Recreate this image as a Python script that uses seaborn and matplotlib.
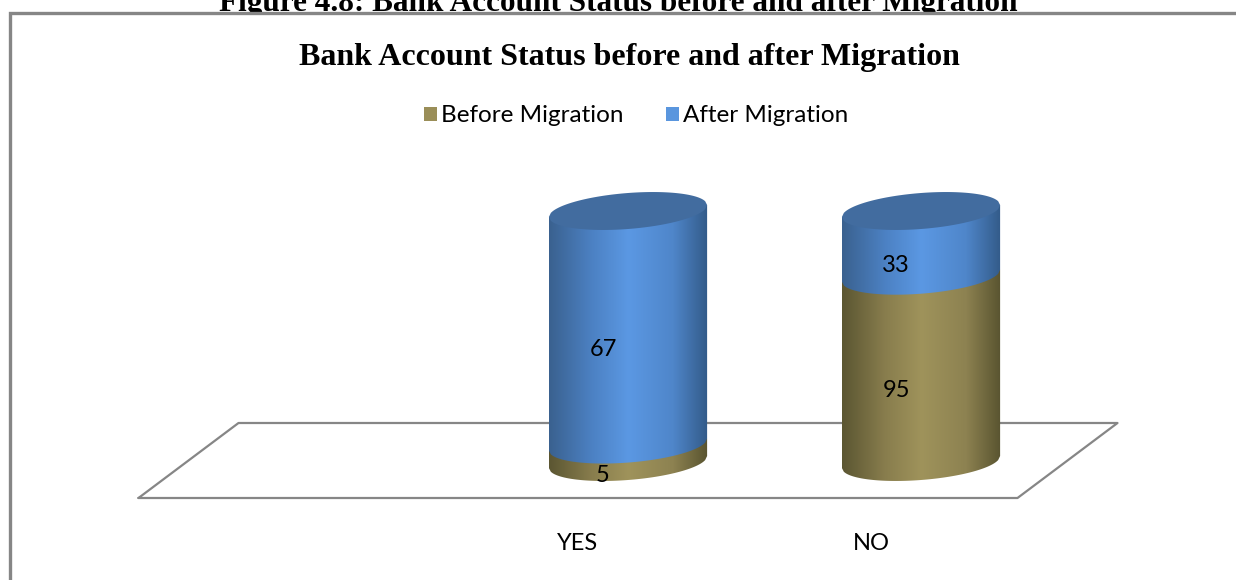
import numpy as np
import pandas as pd
import matplotlib
matplotlib.use('Agg')
from matplotlib import pyplot as plt
from matplotlib.colors import LinearSegmentedColormap
from matplotlib.patches import Patch, Rectangle
from matplotlib.path import Path
from matplotlib.transforms import ScaledTranslation, offset_copy
import seaborn as sns

# data, first category is an empty slot in the original
answers = ['', 'YES', 'NO']
before = [0, 5, 95]
after = [0, 67, 33]
series = ['Before Migration', 'After Migration']
page_title = 'Figure 4.8: Bank Account Status before and after Migration'
chart_title = 'Bank Account Status before and after Migration'

blue_stops = ['#3a618f', '#4c81c3', '#5b98e3', '#4f86ca', '#335b89']
brown_stops = ['#5b5632', '#887d4d', '#9f935b', '#8d8251', '#595430']
cap_color = '#426c9f'
legend_colors = ['#9a8e58', '#5a96de']
grey = '#868686'

sns.set_theme(style='white')
plt.rcParams['font.family'] = ['Lato', 'DejaVu Sans']

W, H = 1236, 580
fig = plt.figure(figsize=(W / 100, H / 100), dpi=100)
ax = fig.add_axes([188.5 / W, (H - 462) / H, 879 / W, 251 / H])
ax.set_zorder(3)
ax.patch.set_visible(False)

df = pd.DataFrame({'answer': answers, 'before': before, 'after': after})
total = (df['before'] + df['after']).replace(0, 1)
df['before_top'] = df['before'] / total * 100
df['after_top'] = (df['before'] + df['after']) / total * 100

# 100% stacked: full bar first, the lower series on top of it
sns.barplot(data=df, x='answer', y='after_top', color=blue_stops[2], width=0.54, ax=ax)
sns.barplot(data=df, x='answer', y='before_top', color=brown_stops[2], width=0.54, ax=ax)
ax.set_xlim(-0.5, 2.5)
ax.set_ylim(0, 100)

b = 18 / 251 * 100      # half height of the ellipse
tilt = 6 / 251 * 100    # the ellipses lean up to the right
u = np.linspace(-1, 1, 80)


def segment_path(x0, x1, y0, y1):
    xs = (x0 + x1) / 2 + u * (x1 - x0) / 2
    ys = y0 + tilt * u - b * np.sqrt(1 - u ** 2)
    pts = list(zip(xs, ys)) + [(x1, y1 + tilt), (x0, y1 - tilt)]
    return Path(pts + [pts[0]], closed=True)


def draw_segment(x0, x1, y0, y1, stops, z):
    cmap = LinearSegmentedColormap.from_list(
        'cyl', list(zip([0, 0.27, 0.5, 0.78, 1], stops)))
    grad = np.linspace(0, 1, 256).reshape(1, -1)
    im = ax.imshow(grad, cmap=cmap, aspect='auto', zorder=z,
                   extent=(x0, x1, y0 - b - tilt, y1 + b + tilt))
    im.set_clip_path(segment_path(x0, x1, y0, y1), ax.transData)
    im.set_clip_box(fig.bbox)


# bars from seaborn give the geometry, the cylinders are painted over it
full_bars, low_bars = ax.containers[0], ax.containers[1]
for full, low in zip(full_bars, low_bars):
    full.set_visible(False)
    low.set_visible(False)
    if full.get_height() == 0:
        continue
    x0, x1 = full.get_x(), full.get_x() + full.get_width()
    split = low.get_height()
    draw_segment(x0, x1, 0, split, brown_stops, 2)
    draw_segment(x0, x1, split, full.get_height(), blue_stops, 3)
    xs = (x0 + x1) / 2 + u * (x1 - x0) / 2
    yc = full.get_height() + tilt * u
    cap = ax.fill(np.r_[xs, xs[::-1]],
                  np.r_[yc - b * np.sqrt(1 - u ** 2), (yc + b * np.sqrt(1 - u ** 2))[::-1]],
                  color=cap_color, lw=0, zorder=4)
    cap[0].set_clip_on(False)

ax.set_xlim(-0.5, 2.5)
ax.set_ylim(0, 100)

# floor of the 3d chart
dx = 50 / 293
front, back = -36 / 251 * 100, 39 / 251 * 100
ax.plot([-0.5 - dx, 2.5 - dx, 2.5 + dx, -0.5 + dx, -0.5 - dx],
        [front, front, back, back, front],
        color=grey, lw=1.6, clip_on=False, zorder=1)

# value labels sit on the front plane, not on the bar centre
label_tr = offset_copy(ax.transData, fig=fig, x=-25, y=-22, units='dots')
for i in range(len(answers)):
    if before[i] + after[i] == 0:
        continue
    ax.text(i, df['before_top'][i] / 2, str(before[i]), transform=label_tr,
            ha='center', va='center', fontsize=17, color='black', zorder=5)
    ax.text(i, (df['before_top'][i] + df['after_top'][i]) / 2, str(after[i]), transform=label_tr,
            ha='center', va='center', fontsize=17, color='black', zorder=5)

sns.despine(ax=ax, left=True, bottom=True)
ax.set_xlabel('')
ax.set_ylabel('')
ax.set_yticks([])
ax.tick_params(axis='x', length=0, pad=51, labelsize=17, labelcolor='black')
shift = ScaledTranslation(-50 / 100, 0, fig.dpi_scale_trans)
for lab in ax.get_xticklabels():
    lab.set_transform(lab.get_transform() + shift)

# page heading is cut by the chart frame, like in the scanned page
fig.text(618 / W, 1 - 4 / H, page_title, family='Liberation Serif', weight='bold',
         fontsize=22.5, ha='center', va='center', color='black', zorder=1)
fig.add_artist(Rectangle((9.5 / W, 0 - 20 / H), (W + 20) / W, (H + 20 - 13) / H,
                         transform=fig.transFigure, facecolor='white', edgecolor=grey,
                         lw=2.4, zorder=2))
fig.text(629.5 / W, 1 - 57 / H, chart_title, family='Liberation Serif', weight='bold',
         fontsize=23, ha='center', va='center', color='black', zorder=4)

handles = [Patch(facecolor=c, edgecolor='none') for c in legend_colors]
leg = fig.legend(handles, series, ncol=2, frameon=False, fontsize=17.5, labelcolor='black',
                 loc='center', bbox_to_anchor=(636 / W, 1 - 116 / H),
                 handlelength=0.55, handleheight=0.55, handletextpad=0.15, columnspacing=1.75)
leg.set_zorder(4)

plt.savefig('out.png', dpi=100)
